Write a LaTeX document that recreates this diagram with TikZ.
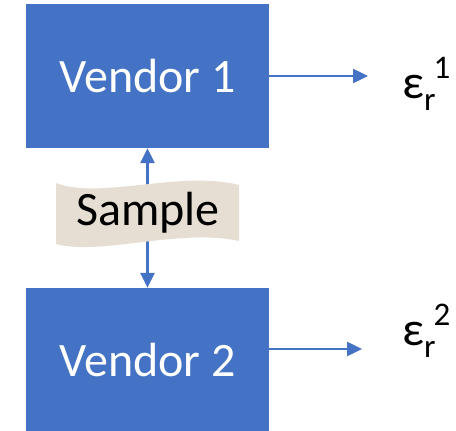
\documentclass[tikz,border=0pt]{standalone}
\usepackage{fontspec}
\setmainfont{Carlito}
\usetikzlibrary{arrows.meta,positioning}

\definecolor{vendorblue}{HTML}{4472C4}
\definecolor{paper}{HTML}{E6DED2}

\tikzset{
  vendor/.style={fill=vendorblue, text=white, minimum width=243pt, minimum height=144pt,
                 inner sep=0pt, font=\fontsize{48}{52}\selectfont},
  link/.style={vendorblue, line width=2.5pt, -{Triangle[length=15pt, width=14pt]}},
  twoway/.style={vendorblue, line width=2.5pt, {Triangle[length=15pt, width=14pt]}-{Triangle[length=15pt, width=14pt]}},
  errlabel/.style={font=\fontsize{48}{52}\selectfont, inner sep=0pt, anchor=base west}
}
\newcommand{\errsym}[1]{ε\raisebox{-12pt}{\fontsize{33}{35}\selectfont r}\kern-2pt\raisebox{20pt}{\fontsize{33}{35}\selectfont #1}}

\begin{document}
\begin{tikzpicture}[x=1pt, y=-1pt]
    \useasboundingbox (0,0) rectangle (456,431);

    \node [vendor] (v1) at (147.5,76)  {Vendor 1};
    \node [vendor] (v2) at (147.5,360) {Vendor 2};

    % sample goes to both vendors
    \draw [twoway] (v2.north) -- (v1.south);

    % banner
    \path [fill=paper] (56,183) .. controls (100,200) and (180,170) .. (239,185)
          -- (239,241) .. controls (180,228) and (100,256) .. (56,244) -- cycle;
    \node [font=\fontsize{48}{52}\selectfont, inner sep=0pt] (sample) at (148,213) {Sample};

    % errors
    \coordinate (e1) at (368,76);
    \coordinate (e2) at (362,349);
    \draw [link] (v1.east) -- (e1);
    \draw [link] ([yshift=11pt]v2.east) -- (e2);
    \node [errlabel] (eps1) at (402,98)  {\errsym{1}};
    \node [errlabel] (eps2) at (402,345) {\errsym{2}};
\end{tikzpicture}
\end{document}
